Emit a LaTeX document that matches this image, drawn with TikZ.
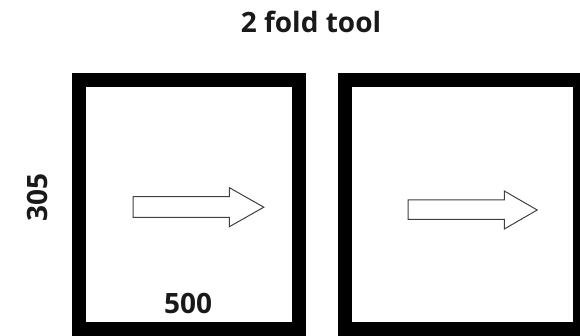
\documentclass[tikz,border=0pt]{standalone}
\usepackage{fontspec}
\setmainfont{Open Sans}
\begin{document}
\begin{tikzpicture}[x=1pt, y=-1pt,
    frame/.style={draw=black, line width=14pt, inner sep=0pt, minimum height=248.3pt},
    blockarrow/.style={draw=black!75, line width=1pt, fill=white, line join=miter},
    dimlabel/.style={font=\bfseries\fontsize{28}{28}\selectfont, text=black!90, inner sep=0pt, anchor=base}]
    \useasboundingbox (0,0) rectangle (580,336);
    % 
    \node[frame, minimum width=220.8pt] (leftframe) at (188.9,204.5) {};
    % 
    \node[frame, minimum width=235.2pt] (rightframe) at (462.1,204.5) {};
    %%%%%%%%%%%%%%%%%%%%%% 
    \draw[blockarrow] (133.2,196.7) -- (229.4,196.7) -- (229.4,187.7) -- (263.8,207.2)
        -- (229.4,226.7) -- (229.4,217.3) -- (133.2,217.3) -- cycle;
    % 
    \draw[blockarrow] (408,200) -- (504.3,200) -- (504.3,191) -- (537.2,210)
        -- (504.3,229) -- (504.3,219.3) -- (408,219.3) -- cycle;
    %%%%%%%%%%%%%%%%%%%%%% 
    \node[dimlabel] (title) at (311,32.3) {2 fold tool};
    % 
    \node[dimlabel] (width) at (188,313) {500};
    % 
    \node[dimlabel, rotate=90] (height) at (47.5,198) {305};
\end{tikzpicture}
\end{document}
